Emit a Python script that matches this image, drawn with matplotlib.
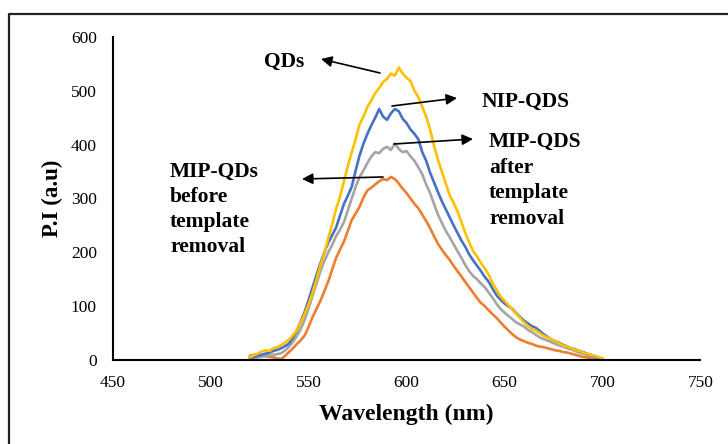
import numpy as np
import matplotlib.pyplot as plt
from matplotlib.lines import Line2D

plt.rcParams['font.family'] = ['Liberation Serif', 'DejaVu Serif']

# emission spectra, 520-700 nm every 2 nm
wavelength = np.arange(520, 701, 2)

qds = [5, 9, 12, 16, 18, 17, 22, 24, 28, 33, 38, 46, 56, 70, 86, 104, 125, 150, 176, 198,
       226, 252, 281, 303, 332, 360, 386, 410, 438, 452, 470, 482, 496, 505, 516, 522, 532, 528, 543, 532,
       524, 518, 500, 488, 470, 452, 428, 398, 372, 350, 328, 306, 292, 276, 256, 236, 218, 202, 192, 180,
       170, 158, 142, 130, 118, 110, 102, 94, 86, 78, 70, 63, 58, 55, 50, 45, 42, 38, 35, 31,
       27, 25, 22, 19, 17, 14, 12, 10, 8, 6, 3]

nip_qds = [3, 6, 8, 10, 12, 14, 17, 19, 22, 26, 31, 42, 55, 72, 90, 112, 135, 158, 180, 200,
           218, 232, 246, 268, 290, 305, 322, 352, 380, 402, 420, 436, 450, 466, 452, 446, 458, 466, 462, 448,
           440, 428, 420, 410, 386, 370, 348, 330, 312, 295, 280, 265, 250, 236, 222, 210, 196, 185, 175, 165,
           154, 145, 132, 120, 112, 105, 100, 95, 87, 80, 73, 68, 63, 60, 54, 48, 43, 38, 35, 32,
           28, 25, 22, 20, 17, 15, 12, 10, 7, 5, 2]

mip_after = [2, 3, 5, 6, 8, 9, 10, 11, 13, 18, 25, 34, 45, 58, 75, 96, 120, 142, 165, 184,
             200, 214, 230, 242, 256, 278, 300, 322, 340, 352, 366, 378, 386, 384, 392, 396, 390, 402, 392, 386,
             388, 378, 370, 358, 345, 326, 310, 290, 270, 255, 240, 228, 215, 202, 190, 176, 165, 156, 150, 142,
             135, 125, 115, 104, 95, 88, 82, 76, 70, 66, 62, 56, 52, 47, 42, 39, 36, 33, 30, 27,
             25, 22, 20, 17, 14, 12, 10, 8, 5, 4, 2]

mip_before = [8, 10, 10, 8, 7, 6, 5, 3, 2, 8, 15, 22, 30, 37, 46, 62, 80, 95, 110, 128,
              146, 168, 190, 205, 220, 240, 260, 272, 285, 302, 315, 320, 326, 332, 336, 334, 340, 336, 328, 318,
              310, 300, 290, 282, 270, 258, 245, 230, 216, 205, 195, 186, 175, 165, 155, 145, 135, 125, 115, 106,
              100, 92, 85, 78, 70, 62, 55, 48, 42, 38, 35, 32, 30, 27, 25, 24, 22, 20, 18, 17,
              15, 14, 12, 10, 8, 6, 5, 4, 3, 1, 0]

fig = plt.figure(figsize=(7.28, 4.44), dpi=100)
ax = fig.add_axes([0.155, 0.189, 0.807, 0.728])

lw = 1.9
ax.plot(wavelength, mip_before, color='#ED7D31', lw=lw)
ax.plot(wavelength, mip_after, color='#A5A5A5', lw=lw)
ax.plot(wavelength, nip_qds, color='#4472C4', lw=lw)
ax.plot(wavelength, qds, color='#FFC000', lw=lw)

ax.set_xlim(450, 750)
ax.set_ylim(0, 600)
ax.set_xticks(range(450, 751, 50))
ax.set_yticks(range(0, 601, 100))
ax.tick_params(length=0, labelsize=12.5)
ax.tick_params(axis='x', pad=10.5)
ax.tick_params(axis='y', pad=11.5)
for s in ['top', 'right']:
    ax.spines[s].set_visible(False)
for s in ['left', 'bottom']:
    ax.spines[s].set_linewidth(1.5)
    ax.spines[s].set_color('black')

ax.set_xlabel('Wavelength (nm)', fontsize=17, fontweight='bold', labelpad=9.5)
ax.set_ylabel('P.I (a.u)', fontsize=16.5, fontweight='bold', labelpad=6)

# labels with arrows (pixel positions converted to data)
def px(x, y):
    return ax.transData.inverted().transform((x, 444 - y))

fig.canvas.draw()
arrow = dict(arrowstyle='-|>', color='black', lw=1.2, mutation_scale=16, shrinkA=0, shrinkB=0)
font = dict(fontsize=15.5, fontweight='bold', va='center')

ax.annotate('', xy=px(321, 59), xytext=px(380, 73), arrowprops=arrow)
ax.text(*px(264, 62), 'QDs', ha='left', **font)

ax.annotate('', xy=px(457, 98), xytext=px(392, 106), arrowprops=arrow)
ax.text(*px(482, 102), 'NIP-QDS', ha='left', **font)

ax.annotate('', xy=px(473, 139), xytext=px(394, 144), arrowprops=arrow)
ax.text(*px(489, 142), 'MIP-QDS', ha='left', **font)
ax.text(*px(489, 168), 'after', ha='left', **font)
ax.text(*px(489, 193), 'template', ha='left', **font)
ax.text(*px(489, 219), 'removal', ha='left', **font)

ax.annotate('', xy=px(302, 179), xytext=px(383, 177), arrowprops=arrow)
ax.text(*px(170, 172), 'MIP-QDs', ha='left', **font)
ax.text(*px(170, 197), 'before', ha='left', **font)
ax.text(*px(170, 222), 'template', ha='left', **font)
ax.text(*px(170, 247), 'removal', ha='left', **font)

# outer frame, open to the right and bottom
fig.add_artist(Line2D([9 / 728, 9 / 728, 1.0], [0.0, 1 - 14 / 444, 1 - 14 / 444],
                      transform=fig.transFigure, color='#222222', lw=1.6))

fig.savefig('out.png', dpi=100)
